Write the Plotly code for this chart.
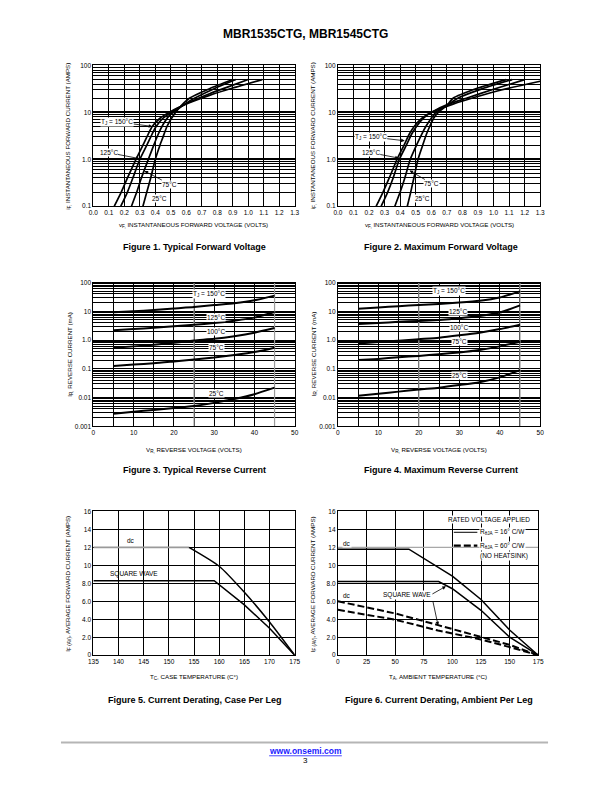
import plotly.graph_objects as go

W, H = 612, 792
FONT = "Liberation Sans, Arial, Helvetica, sans-serif"

# ---------------- data ----------------
# Figure 1 - typical forward voltage (volts) vs current (amps)
f1_v_150 = [0.135, 0.18, 0.22, 0.275, 0.32, 0.355, 0.38, 0.43, 0.50, 0.62, 0.75, 0.90, 1.09]
f1_i_150 = [0.1, 0.2, 0.4, 1.0, 2.0, 3.5, 5.0, 7.5, 10.5, 16, 23, 33, 50]
f1_v_125 = [0.177, 0.22, 0.255, 0.30, 0.345, 0.38, 0.405, 0.45, 0.52, 0.63, 0.75, 0.87, 1.00]
f1_i_125 = [0.1, 0.2, 0.4, 1.0, 2.0, 3.5, 5.0, 7.5, 11, 17, 25, 35, 50]
f1_v_75 = [0.246, 0.28, 0.31, 0.355, 0.39, 0.42, 0.45, 0.49, 0.55, 0.64, 0.78, 0.92]
f1_i_75 = [0.1, 0.2, 0.4, 1.0, 2.0, 3.5, 5.5, 8.5, 12, 19, 32, 50]
f1_v_25 = [0.32, 0.345, 0.37, 0.40, 0.43, 0.45, 0.475, 0.51, 0.55, 0.62, 0.75, 0.90]
f1_i_25 = [0.1, 0.2, 0.4, 1.0, 2.0, 3.0, 5.0, 8.0, 12, 20, 32, 50]

# Figure 2 - maximum forward voltage
f2_v_150 = [0.246, 0.29, 0.33, 0.38, 0.425, 0.46, 0.49, 0.54, 0.60, 0.74, 0.88, 1.05, 1.30]
f2_i_150 = [0.1, 0.2, 0.4, 1.0, 2.0, 3.5, 5.0, 7.5, 10, 15, 21, 30, 46]
f2_v_125 = [0.278, 0.32, 0.355, 0.395, 0.44, 0.475, 0.505, 0.55, 0.60, 0.71, 0.825, 1.00, 1.20]
f2_i_125 = [0.1, 0.2, 0.4, 1.0, 2.0, 3.5, 5.0, 7.5, 10, 15, 20, 31, 50]
f2_v_75 = [0.366, 0.40, 0.43, 0.465, 0.505, 0.54, 0.565, 0.60, 0.63, 0.70, 0.77, 0.93, 1.12]
f2_i_75 = [0.1, 0.2, 0.4, 1.0, 2.0, 3.5, 5.0, 7.5, 10, 14, 20, 32, 50]
f2_v_25 = [0.446, 0.468, 0.488, 0.515, 0.545, 0.57, 0.59, 0.615, 0.645, 0.70, 0.74, 0.90, 1.08]
f2_i_25 = [0.1, 0.2, 0.4, 1.0, 2.0, 3.5, 5.0, 7.5, 10, 14, 20, 33, 50]

# Figures 3/4 - reverse current (mA) vs reverse voltage (volts)
vr = [5, 10, 15, 20, 25, 30, 35, 40, 45]
f3_150 = [9.2, 10, 11, 12.5, 14, 16.5, 19, 24, 35]
f3_125 = [2.2, 2.4, 2.65, 3.0, 3.4, 3.9, 4.7, 6.0, 9.4]
f3_100 = [0.54, 0.60, 0.68, 0.80, 0.96, 1.1, 1.36, 1.8, 2.6]
f3_75 = [0.125, 0.14, 0.155, 0.18, 0.21, 0.245, 0.30, 0.38, 0.54]
f3_25 = [0.0027, 0.0032, 0.0037, 0.0043, 0.0051, 0.0065, 0.0088, 0.013, 0.022]

f4_150 = [12.3, 13.5, 15, 16.5, 18, 20, 23, 30, 49]
f4_125 = [3.6, 3.9, 4.3, 4.6, 5.0, 5.7, 6.8, 9.0, 16]
f4_100 = [0.76, 0.85, 0.95, 1.07, 1.2, 1.45, 1.8, 2.4, 3.4]
f4_75 = [0.20, 0.22, 0.25, 0.28, 0.32, 0.37, 0.45, 0.60, 0.87]
f4_25 = [0.0115, 0.0135, 0.016, 0.019, 0.022, 0.027, 0.034, 0.050, 0.090]

# gray-highlighted verticals of the reverse current grids
f3_gray_v = [25, 45]
f4_gray_v = [20, 45]

# Figure 5 - derating vs case temperature
f5_dc_t = [135, 154, 160, 165, 170, 175]
f5_dc_i = [12, 12, 9.9, 7.0, 3.7, 0]
f5_sq_t = [135, 159, 165, 170, 175]
f5_sq_i = [8.3, 8.3, 5.6, 3.0, 0]

# Figure 6 - derating vs ambient temperature
f6_dc16_t = [0, 62, 100, 125, 150, 175]
f6_dc16_i = [11.8, 11.8, 8.8, 6.2, 2.8, 0]
f6_sq16_t = [0, 88, 100, 125, 150, 175]
f6_sq16_i = [8.2, 8.2, 7.4, 5.0, 2.0, 0]
f6_dc60_t = [0, 50, 87.5, 125, 150, 175]
f6_dc60_i = [6.0, 4.65, 3.35, 2.05, 1.15, 0]
f6_sq60_t = [0, 50, 87.5, 125, 150, 175]
f6_sq60_i = [5.05, 3.95, 2.75, 1.75, 0.9, 0]

# tick labels
vf_ticks = [0.0, 0.1, 0.2, 0.3, 0.4, 0.5, 0.6, 0.7, 0.8, 0.9, 1.0, 1.1, 1.2, 1.3]
vf_ticktext = ["0.0", "0.1", "0.2", "0.3", "0.4", "0.5", "0.6", "0.7", "0.8", "0.9", "1.0", "1.1", "1.2", "1.3"]
if_ticks = [0.1, 1, 10, 100]
if_ticktext = ["0.1", "1.0", "10", "100"]
ir_ticks = [0.001, 0.01, 0.1, 1, 10, 100]
ir_ticktext = ["0.001", "0.01", "0.1", "1.0", "10", "100"]
vr_ticks = [0, 10, 20, 30, 40, 50]
iav_ticks = [0, 2, 4, 6, 8, 10, 12, 14, 16]
iav_ticktext = ["0", "2.0", "4.0", "6.0", "8.0", "10", "12", "14", "16"]
tc_ticks = [135, 140, 145, 150, 155, 160, 165, 170, 175]
ta_ticks = [0, 25, 50, 75, 100, 125, 150, 175]

# ---------------- helpers ----------------
def px(x):
    return x / W

def py(y):
    return 1 - y / H

def sub(s):
    # small lowered text for subscripts
    return '<span style="font-size:4.6px;baseline-shift:-22%%">%s</span>' % s

boxes = {1: (90, 295, 62, 204), 2: (339, 545, 62, 204),
         3: (90, 295, 281, 426), 4: (339, 545, 281, 426),
         5: (90, 295, 512, 657), 6: (339, 543, 512, 657)}

base = dict(showline=True, mirror=True, linecolor="black", linewidth=1,
            showgrid=True, gridcolor="black", gridwidth=0.7, zeroline=False,
            ticks="", tickfont=dict(family=FONT, size=6.5, color="black"),
            fixedrange=True)

layout_axes = {}

def set_axes(n, xcfg, ycfg):
    x0, x1, y0, y1 = boxes[n]
    xa = dict(base); xa.update(xcfg)
    ya = dict(base); ya.update(ycfg)
    xa["domain"] = [px(x0), px(x1)]
    ya["domain"] = [py(y1), py(y0)]
    sx = "" if n == 1 else str(n)
    xa["anchor"] = "y" + sx
    ya["anchor"] = "x" + sx
    layout_axes["xaxis" + sx] = xa
    layout_axes["yaxis" + sx] = ya

minor_log = dict(showgrid=True, gridcolor="black", gridwidth=0.6, dtick="D1", ticks="")

for n in (1, 2):
    set_axes(n,
             dict(range=[0, 1.3], tickmode="array", tickvals=vf_ticks, ticktext=vf_ticktext, gridwidth=0.8),
             dict(type="log", range=[-1, 2], tickmode="array", tickvals=if_ticks, ticktext=if_ticktext,
                  gridwidth=1.8, minor=minor_log))
for n in (3, 4):
    set_axes(n,
             dict(range=[0, 50], tickmode="array", tickvals=vr_ticks, gridwidth=0.8,
                  minor=dict(showgrid=True, gridcolor="black", gridwidth=0.8, dtick=5, ticks="")),
             dict(type="log", range=[-3, 2], tickmode="array", tickvals=ir_ticks, ticktext=ir_ticktext,
                  gridwidth=1.3, minor=minor_log))
set_axes(5, dict(range=[135, 175], tickmode="array", tickvals=tc_ticks, gridwidth=0.8),
         dict(range=[0, 16], tickmode="array", tickvals=iav_ticks, ticktext=iav_ticktext, gridwidth=0.8))
set_axes(6, dict(range=[0, 175], tickmode="array", tickvals=ta_ticks, gridwidth=0.8),
         dict(range=[0, 16], tickmode="array", tickvals=iav_ticks, ticktext=iav_ticktext, gridwidth=0.8))

fig = go.Figure()

def line(n, x, y, width=1.6, color="black", dash="solid", spline=True):
    sx = "" if n == 1 else str(n)
    fig.add_trace(go.Scatter(
        x=x, y=y, mode="lines", xaxis="x" + sx, yaxis="y" + sx,
        line=dict(color=color, width=width, dash=dash,
                  shape="spline" if spline else "linear", smoothing=0.6),
        showlegend=False, hoverinfo="skip"))

# gray highlighted gridlines (drawn first, under the curves)
for xv in f3_gray_v:
    line(3, [xv, xv], [0.001, 100], 1.2, "#9a9a9a", spline=False)
for xv in f4_gray_v:
    line(4, [xv, xv], [0.001, 100], 1.2, "#9a9a9a", spline=False)
line(6, [0, 175], [12, 12], 1.4, "#a8a8a8", spline=False)

# figure 1 & 2 curves
for v, i in [(f1_v_150, f1_i_150), (f1_v_125, f1_i_125), (f1_v_75, f1_i_75), (f1_v_25, f1_i_25)]:
    line(1, v, i, 1.7)
for v, i in [(f2_v_150, f2_i_150), (f2_v_125, f2_i_125), (f2_v_75, f2_i_75), (f2_v_25, f2_i_25)]:
    line(2, v, i, 1.7)
# figure 3 & 4 curves
for s in [f3_150, f3_125, f3_100, f3_75, f3_25]:
    line(3, vr, s, 2)
for s in [f4_150, f4_125, f4_100, f4_75, f4_25]:
    line(4, vr, s, 2)
# figure 5
line(5, f5_dc_t[:2], f5_dc_i[:2], 1.6, "#9a9a9a", spline=False)
line(5, f5_dc_t[1:], f5_dc_i[1:], 1.5, spline=True)
line(5, f5_sq_t, f5_sq_i, 1.5, spline=False)
# figure 6
line(6, f6_dc16_t, f6_dc16_i, 1.5, spline=False)
line(6, f6_sq16_t, f6_sq16_i, 1.5, spline=False)
line(6, f6_dc60_t, f6_dc60_i, 2, dash="7px,3px", spline=False)
line(6, f6_sq60_t, f6_sq60_i, 2, dash="7px,3px", spline=False)

shapes = []
# legend samples figure 6
shapes.append(dict(type="line", xref="paper", yref="paper", x0=px(457), x1=px(481), y0=py(533), y1=py(533),
                   line=dict(color="black", width=1)))
shapes.append(dict(type="line", xref="paper", yref="paper", x0=px(457), x1=px(481), y0=py(546.5), y1=py(546.5),
                   line=dict(color="black", width=2.2, dash="7px,3px")))
# footer rule and link underline
shapes.append(dict(type="line", xref="paper", yref="paper", x0=px(57), x1=px(553), y0=py(745), y1=py(745),
                   line=dict(color="#b5b5b5", width=2)))
shapes.append(dict(type="line", xref="paper", yref="paper", x0=px(269), x1=px(343), y0=py(758.5), y1=py(758.5),
                   line=dict(color="#1a1aff", width=0.8)))

ann = []

def txt(x, y, s, size=6.5, bold=False, bg=None, angle=0, color="black", xanchor="center"):
    d = dict(x=px(x), y=py(y), xref="paper", yref="paper", text=("<b>%s</b>" % s) if bold else s,
             showarrow=False, font=dict(family=FONT, size=size, color=color), textangle=angle,
             xanchor=xanchor, yanchor="middle", borderpad=0)
    if bg:
        d["bgcolor"] = bg
    ann.append(d)

def arrow(tx, ty, hx, hy, s, size=6.5):
    d = dict(x=px(hx), y=py(hy), xref="paper", yref="paper", ax=tx - hx, ay=ty - hy,
             text=s, showarrow=True, arrowhead=2, arrowsize=0.9, arrowwidth=0.8, arrowcolor="black",
             font=dict(family=FONT, size=size, color="black"), borderpad=0)
    if s.strip():
        d["bgcolor"] = "white"
    ann.append(d)

TJ = "T" + sub("J")

# header
txt(306, 30, "MBR1535CTG, MBR1545CTG", size=12, bold=True)

# figure 1 labels
arrow(115, 119, 150, 123.5, TJ + " = 150°C")
arrow(106, 150, 137, 156, "125°C")
arrow(167, 181.5, 142, 168.5, "75°C")
txt(157, 196.5, "25°C", bg="white")
# figure 2 labels
arrow(373, 134, 407, 138, TJ + " = 150°C")
arrow(373, 150, 401, 155.5, "125°C")
arrow(434, 181, 412, 168, "75°C")
txt(425, 196.5, "25°C", bg="white")
# figure 3 labels
for (x, y, s) in [(207.5, 293, TJ + " = 150°C"), (215, 316.5, "125°C"), (215, 330.5, "100°C"),
                  (215.5, 347, "75°C"), (215.5, 392.5, "25°C")]:
    txt(x, y, s, bg="white")
for (x, y, s) in [(452, 290, TJ + " = 150°C"), (461, 310.5, "125°C"), (462, 326.5, "100°C"),
                  (463, 341, "75°C"), (463, 375, "25°C")]:
    txt(x, y, s, bg="white")
# figure 5 labels
txt(128, 541.5, "dc")
txt(131.5, 575, "SQUARE WAVE")
# figure 6 labels
txt(492.5, 520.5, "RATED VOLTAGE APPLIED", bg="white")
txt(483, 533, "R" + sub("θJA") + " = 16° C/W", bg="white", xanchor="left")
txt(483, 546.5, "R" + sub("θJA") + " = 60° C/W", bg="white", xanchor="left")
txt(483, 557, "(NO HEATSINK)", bg="white", xanchor="left")
txt(348.5, 544, "dc", bg="white")
txt(348.5, 596.5, "dc")
txt(409, 596.5, "SQUARE WAVE", bg="white")
arrow(434, 596, 449, 587.5, " ")
arrow(435, 599, 441, 627, " ")

# axis titles
for cx in (192, 442):
    txt(cx, 223, "v" + sub("F,") + " INSTANTANEOUS FORWARD VOLTAGE (VOLTS)", size=6.2)
    txt(cx, 450, "V" + sub("R,") + " REVERSE VOLTAGE (VOLTS)", size=6.2)
txt(192, 679, "T" + sub("C") + ", CASE TEMPERATURE (C°)", size=6.2)
txt(441, 679, "T" + sub("A") + ", AMBIENT TEMPERATURE (°C)", size=6.2)
for lx in (64, 313):
    txt(lx, 133, "i" + sub("F,") + " INSTANTANEOUS FORWARD CURRENT (AMPS)", size=6.2, angle=-90)
    txt(lx + 2, 353, "I" + sub("R,") + " REVERSE CURRENT (mA)", size=6.2, angle=-90)
    txt(lx, 585, "I" + sub("F (AV)") + ", AVERAGE FORWARD CURRENT (AMPS)", size=6.2, angle=-90)

# captions
txt(193, 245, "Figure 1. Typical Forward Voltage", size=9, bold=True)
txt(444, 245, "Figure 2. Maximum Forward Voltage", size=9, bold=True)
txt(193, 470, "Figure 3. Typical Reverse Current", size=9, bold=True)
txt(444, 470, "Figure 4. Maximum Reverse Current", size=9, bold=True)
txt(193, 702, "Figure 5. Current Derating, Case Per Leg", size=9, bold=True)
txt(442, 702, "Figure 6. Current Derating, Ambient Per Leg", size=9, bold=True)

# footer
txt(306, 753.5, "www.onsemi.com", size=8.5, bold=True, color="#1a1aff")
txt(306, 763.5, "3", size=8)

fig.update_layout(width=W, height=H, margin=dict(l=0, r=0, t=0, b=0),
                  paper_bgcolor="white", plot_bgcolor="white",
                  font=dict(family=FONT, color="black"),
                  shapes=shapes, annotations=ann, **layout_axes)

fig.write_html("out.html", config={"displayModeBar": False},
               post_script="document.body.style.margin='0px';")
